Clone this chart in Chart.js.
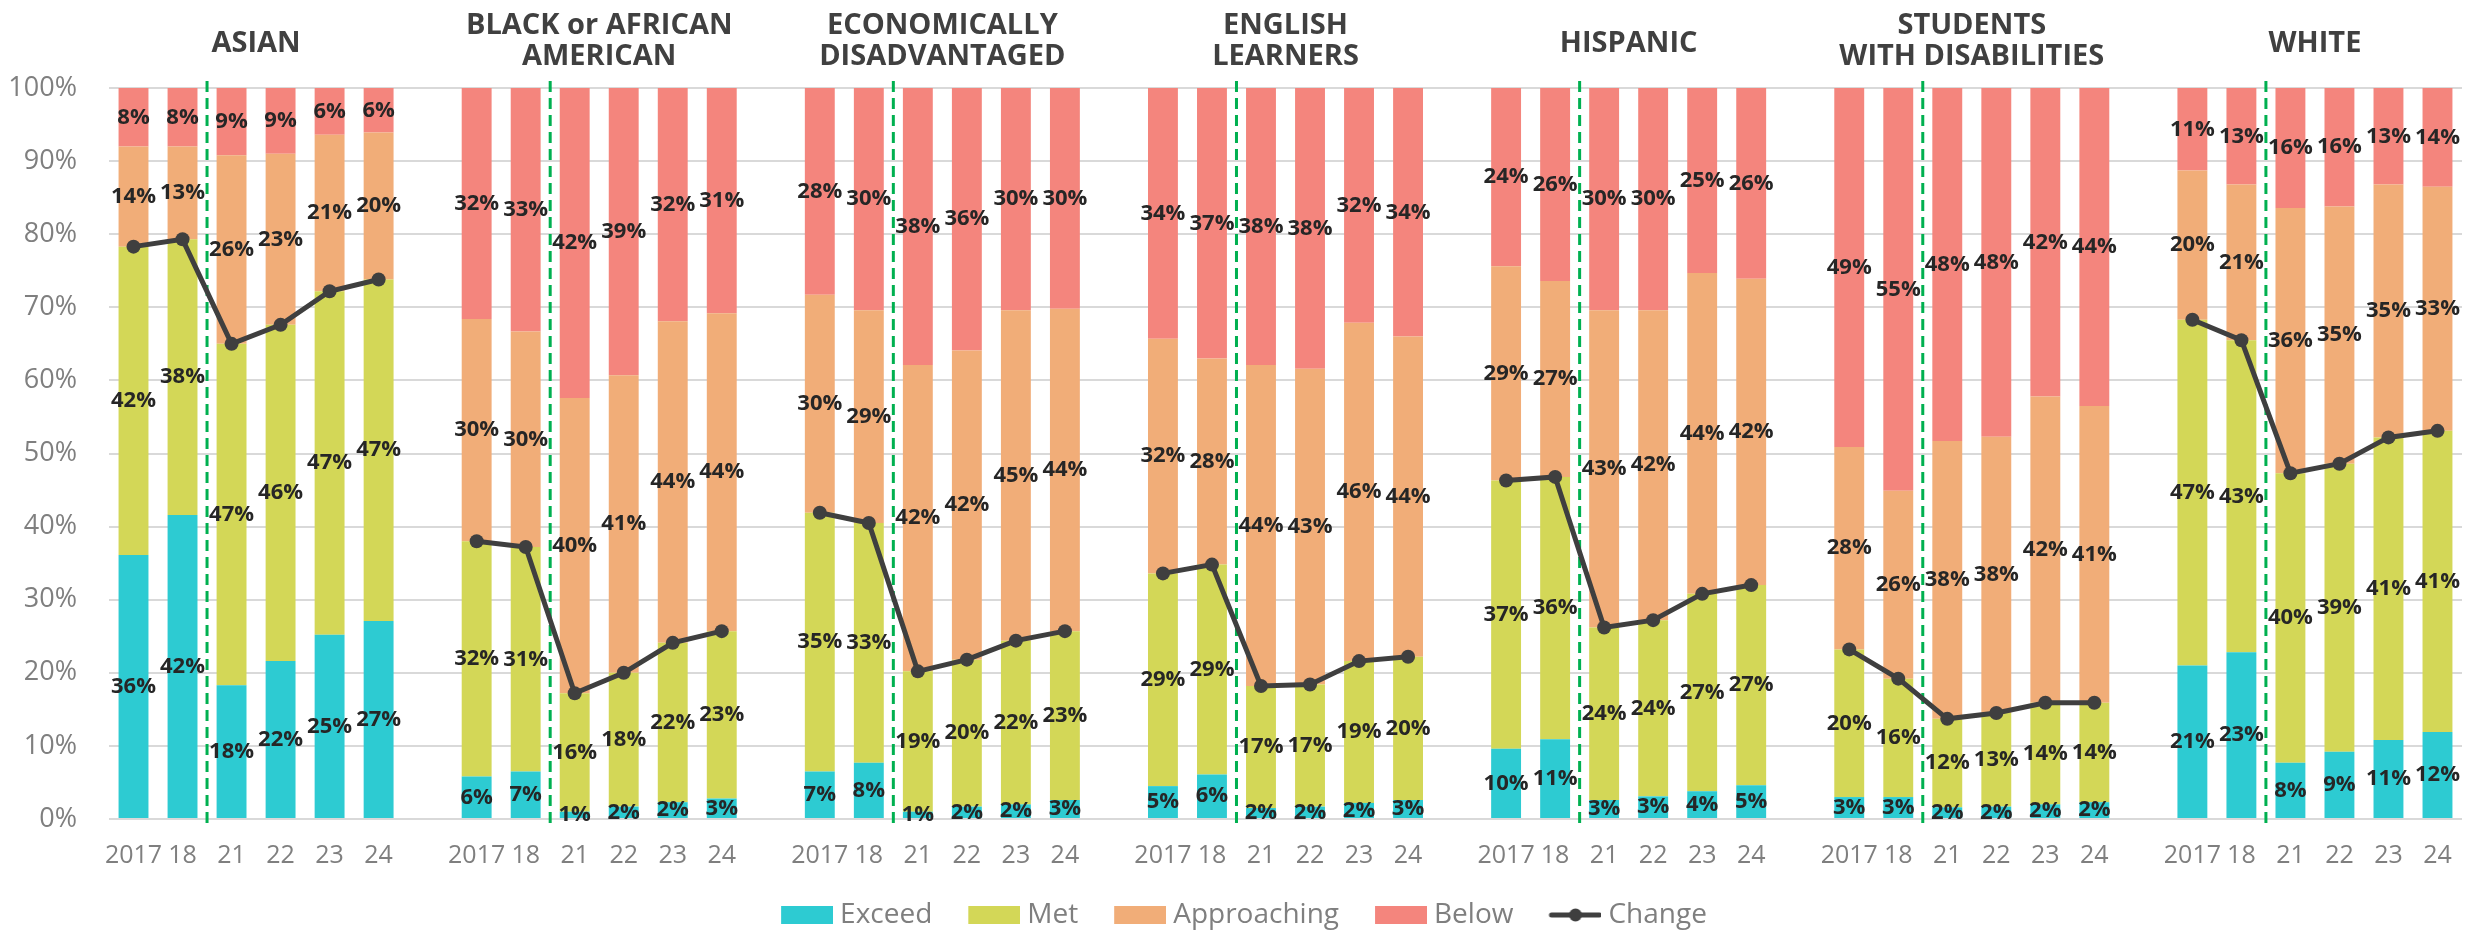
<!DOCTYPE html>
<html>
<head>
<meta charset="utf-8">
<script src="https://cdn.jsdelivr.net/npm/chart.js@4.4.1/dist/chart.umd.min.js"></script>
<style>
html,body{margin:0;padding:0;background:#ffffff;}
#wrap{width:2476px;height:931px;}
</style>
</head>
<body>
<div id="wrap"><canvas id="c" width="2476" height="931"></canvas></div>
<script>
// ---------- DATA ----------
const years = ['2017', '18', '21', '22', '23', '24'];
const groupTitles = [
  ['ASIAN'],
  ['BLACK or AFRICAN', 'AMERICAN'],
  ['ECONOMICALLY', 'DISADVANTAGED'],
  ['ENGLISH', 'LEARNERS'],
  ['HISPANIC'],
  ['STUDENTS', 'WITH DISABILITIES'],
  ['WHITE']
];
const exceedValues = [
  [36.1, 41.6, 18.3, 21.6, 25.2, 27.1],
  [5.8, 6.5, 1.0, 1.7, 2.3, 2.8],
  [6.5, 7.7, 1.0, 1.7, 2.0, 2.6],
  [4.5, 6.1, 1.5, 1.7, 2.2, 2.6],
  [9.6, 10.9, 2.6, 3.1, 3.8, 4.6],
  [3.0, 3.0, 1.6, 1.7, 2.0, 2.3],
  [21.0, 22.8, 7.7, 9.2, 10.8, 11.9]
];
const metValues = [
  [42.2, 37.7, 46.7, 46.0, 47.0, 46.7],
  [32.2, 30.7, 16.2, 18.3, 21.8, 22.9],
  [35.4, 32.8, 19.2, 20.1, 22.4, 23.1],
  [29.1, 28.7, 16.7, 16.7, 19.4, 19.6],
  [36.7, 35.9, 23.6, 24.1, 27.0, 27.4],
  [20.2, 16.2, 12.1, 12.8, 13.9, 13.6],
  [47.3, 42.7, 39.6, 39.4, 41.4, 41.2]
];
const approachingValues = [
  [13.7, 12.7, 25.8, 23.4, 21.4, 20.1],
  [30.4, 29.5, 40.4, 40.7, 44.0, 43.5],
  [29.8, 29.1, 41.9, 42.3, 45.2, 44.1],
  [32.1, 28.2, 43.9, 43.2, 46.3, 43.8],
  [29.3, 26.8, 43.4, 42.4, 43.9, 41.9],
  [27.7, 25.7, 38.0, 37.8, 41.9, 40.6],
  [20.4, 21.3, 36.3, 35.2, 34.6, 33.4]
];
const belowValues = [
  [8.0, 8.0, 9.2, 9.0, 6.4, 6.1],
  [31.6, 33.3, 42.4, 39.3, 31.9, 30.8],
  [28.3, 30.4, 37.9, 35.9, 30.4, 30.2],
  [34.3, 37.0, 37.9, 38.4, 32.1, 34.0],
  [24.4, 26.4, 30.4, 30.4, 25.3, 26.1],
  [49.1, 55.1, 48.3, 47.7, 42.2, 43.5],
  [11.3, 13.2, 16.4, 16.2, 13.2, 13.5]
];
const changeValues = [
  [78.3, 79.3, 65.0, 67.6, 72.2, 73.8],
  [38.0, 37.2, 17.2, 20.0, 24.1, 25.7],
  [41.9, 40.5, 20.2, 21.8, 24.4, 25.7],
  [33.6, 34.8, 18.2, 18.4, 21.6, 22.2],
  [46.3, 46.8, 26.2, 27.2, 30.8, 32.0],
  [23.2, 19.2, 13.7, 14.5, 15.9, 15.9],
  [68.3, 65.5, 47.3, 48.6, 52.2, 53.1]
];
const seriesNames = ['Exceed', 'Met', 'Approaching', 'Below', 'Change'];
const yTickValues = [0, 10, 20, 30, 40, 50, 60, 70, 80, 90, 100];

// ---------- STYLE ----------
const COLORS = {
  Exceed: '#2DCBD2',
  Met: '#D3D757',
  Approaching: '#F1AD78',
  Below: '#F4857D',
  Change: '#3F3F3F'
};
const GRAY = '#7F7F7F';
const FONT = '"Open Sans", "Noto Sans", sans-serif';

// ---------- BUILD FLAT ARRAYS (groups separated by an empty slot) ----------
function flatten(groups) {
  const out = [];
  groups.forEach((g, i) => {
    g.forEach(v => out.push(v));
    if (i < groups.length - 1) out.push(null);
  });
  return out;
}
const labels = flatten(groupTitles.map(() => years)).map(v => v === null ? '' : v);
const groupSize = years.length + 1;

// ---------- LEGEND IMAGES ----------
const LEG_P = 71;           // pointStyleWidth
const LEG_W = LEG_P + 14;   // image width
function boxImage(color) {
  const c = document.createElement('canvas');
  c.width = LEG_W; c.height = 18;
  const x = c.getContext('2d');
  x.fillStyle = color;
  x.fillRect(LEG_W - 52, 0, 52, 18);
  return c;
}
function lineImage(color) {
  const c = document.createElement('canvas');
  c.width = LEG_W; c.height = 18;
  const x = c.getContext('2d');
  x.strokeStyle = color; x.lineWidth = 5; x.lineCap = 'round';
  x.beginPath(); x.moveTo(LEG_W - 50, 9); x.lineTo(LEG_W - 2, 9); x.stroke();
  x.fillStyle = color;
  x.beginPath(); x.arc(LEG_W - 26, 9, 6.5, 0, Math.PI * 2); x.fill();
  return c;
}

// ---------- PLUGINS ----------
const dashPlugin = {
  id: 'dashes',
  beforeDatasetsDraw(chart) {
    const xs = chart.scales.x, ys = chart.scales.y, ctx = chart.ctx;
    ctx.save();
    ctx.strokeStyle = '#00B050';
    ctx.lineWidth = 3;
    ctx.setLineDash([11, 6]);
    for (let g = 0; g < groupTitles.length; g++) {
      const i0 = g * groupSize;
      const x = (xs.getPixelForValue(i0 + 1) + xs.getPixelForValue(i0 + 2)) / 2;
      ctx.beginPath();
      ctx.moveTo(x, ys.getPixelForValue(100) - 7);
      ctx.lineTo(x, ys.getPixelForValue(0) + 10);
      ctx.stroke();
    }
    ctx.restore();
  }
};

const labelPlugin = {
  id: 'segLabels',
  afterDatasetsDraw(chart) {
    const ctx = chart.ctx;
    ctx.save();
    ctx.font = 'bold 22px ' + FONT;
    ctx.fillStyle = '#262626';
    ctx.textAlign = 'center';
    ctx.textBaseline = 'middle';
    chart.data.datasets.forEach((ds, di) => {
      if (ds.type !== 'bar') return;
      const meta = chart.getDatasetMeta(di);
      meta.data.forEach((el, j) => {
        const v = ds.data[j];
        if (v === null || v === undefined) return;
        const p = el.getProps(['x', 'y', 'base'], true);
        ctx.fillText(Math.round(v) + '%', p.x, (p.y + p.base) / 2);
      });
    });
    ctx.restore();
  }
};

const titlePlugin = {
  id: 'groupTitles',
  afterDraw(chart) {
    const xs = chart.scales.x, ctx = chart.ctx;
    ctx.save();
    ctx.font = 'bold 29px ' + FONT;
    ctx.fillStyle = '#404040';
    ctx.textAlign = 'center';
    ctx.textBaseline = 'middle';
    groupTitles.forEach((lines, g) => {
      const i0 = g * groupSize;
      const cx = (xs.getPixelForValue(i0) + xs.getPixelForValue(i0 + years.length - 1)) / 2;
      if (lines.length === 1) {
        ctx.fillText(lines[0], cx, 44);
      } else {
        ctx.fillText(lines[0], cx, 26);
        ctx.fillText(lines[1], cx, 57);
      }
    });
    ctx.restore();
  }
};

// ---------- CHART ----------
function build() {
  const barDs = (name, groups) => ({
    type: 'bar',
    label: name,
    data: flatten(groups),
    backgroundColor: COLORS[name],
    borderWidth: 0,
    barPercentage: 0.61,
    categoryPercentage: 1.0,
    stack: 's',
    order: 1
  });
  const datasets = [
    barDs('Exceed', exceedValues),
    barDs('Met', metValues),
    barDs('Approaching', approachingValues),
    barDs('Below', belowValues),
    {
      type: 'line',
      label: 'Change',
      data: flatten(changeValues),
      borderColor: COLORS.Change,
      backgroundColor: COLORS.Change,
      borderWidth: 5,
      pointRadius: 7,
      pointHoverRadius: 7,
      pointBackgroundColor: COLORS.Change,
      pointBorderWidth: 0,
      spanGaps: false,
      tension: 0,
      order: 0
    }
  ];

  new Chart(document.getElementById('c'), {
    data: { labels, datasets },
    options: {
      responsive: false,
      animation: false,
      devicePixelRatio: 1,
      layout: { padding: { left: 0, right: 14, top: 88, bottom: -8 } },
      plugins: {
        tooltip: { enabled: false },
        legend: {
          position: 'bottom',
          labels: {
            usePointStyle: true,
            pointStyleWidth: LEG_P,
            boxHeight: 18,
            padding: 10,
            color: GRAY,
            font: { family: FONT, size: 28 },
            generateLabels(chart) {
              return seriesNames.map((name) => {
                const di = chart.data.datasets.findIndex(d => d.label === name);
                return {
                  text: name,
                  pointStyle: name === 'Change' ? lineImage(COLORS[name]) : boxImage(COLORS[name]),
                  fillStyle: COLORS[name],
                  strokeStyle: COLORS[name],
                  lineWidth: 0,
                  fontColor: GRAY,
                  hidden: !chart.isDatasetVisible(di),
                  datasetIndex: di
                };
              });
            }
          }
        }
      },
      scales: {
        x: {
          stacked: true,
          grid: { display: false, drawTicks: false },
          border: { display: false },
          ticks: {
            autoSkip: false,
            maxRotation: 0,
            minRotation: 0,
            padding: 22,
            color: GRAY,
            font: { family: FONT, size: 25 }
          },
          afterFit(scale) { scale.height = 72; }
        },
        y: {
          stacked: true,
          min: 0,
          max: 100,
          grid: { color: '#D9D9D9', lineWidth: 2, drawTicks: false },
          border: { display: false },
          afterBuildTicks(scale) { scale.ticks = yTickValues.map(v => ({ value: v })); },
          ticks: {
            padding: 32,
            color: GRAY,
            font: { family: FONT, size: 27 },
            callback: (v) => v + '%'
          },
          afterFit(scale) { scale.width = 109; }
        }
      }
    },
    plugins: [dashPlugin, labelPlugin, titlePlugin]
  });
}

if (document.fonts && document.fonts.load) {
  Promise.all([
    document.fonts.load('bold 22px "Open Sans"'),
    document.fonts.load('27px "Open Sans"')
  ]).then(build, build);
} else {
  build();
}
</script>
</body>
</html>
